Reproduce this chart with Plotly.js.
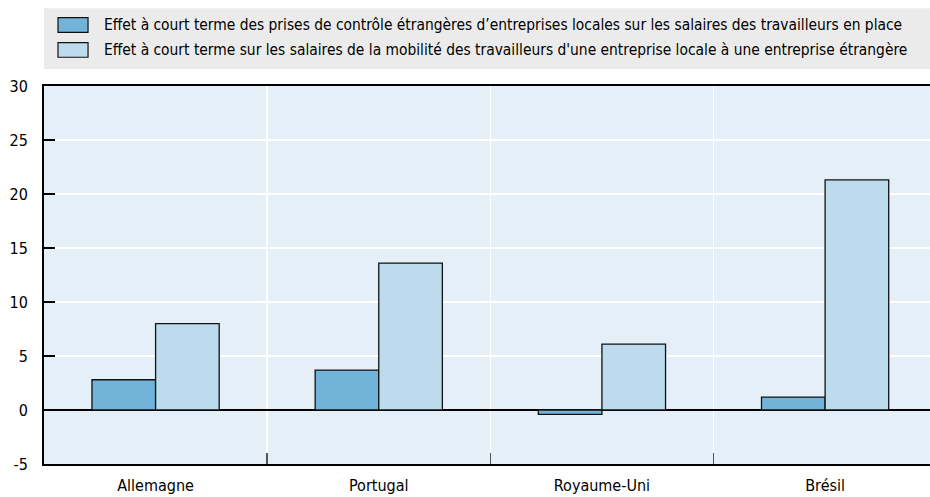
<!DOCTYPE html>
<html>
<head>
<meta charset="utf-8">
<script src="https://cdn.plot.ly/plotly-3.0.1.min.js"></script>
<style>html,body{margin:0;padding:0;background:#fff;}#chart{width:930px;height:497px;}</style>
</head>
<body>
<div id="chart"></div>
<script>
const categories = ["Allemagne", "Portugal", "Royaume-Uni", "Brésil"];
const seriesNames = [
  "Effet à court terme des prises de contrôle étrangères d’entreprises locales sur les salaires des travailleurs en place",
  "Effet à court terme sur les salaires de la mobilité des travailleurs d'une entreprise locale à une entreprise étrangère"
];
const takeoverEffect = [2.8, 3.7, -0.4, 1.2];
const mobilityEffect = [8.0, 13.6, 6.1, 21.3];
const seriesColors = ["#72b3da", "#bcdcee"];
const yTicks = [-5, 0, 5, 10, 15, 20, 25, 30];

const FONT = "'DejaVu Sans Condensed', 'Liberation Sans Narrow', Arial, sans-serif";
const seriesValues = [takeoverEffect, mobilityEffect];

const traces = seriesValues.map((vals, i) => ({
  type: "bar",
  x: categories,
  y: vals,
  name: seriesNames[i],
  marker: { color: seriesColors[i], line: { color: "#111", width: 1.3 } },
  showlegend: false,
  hoverinfo: "x+y"
}));

// custom legend (background box, swatches, labels)
const shapes = [{
  type: "rect", xref: "paper", yref: "paper",
  x0: 0, x1: 1, y0: 1.045, y1: 1.206,
  fillcolor: "#ebebeb", line: { width: 0 }, layer: "below"
}];
const annotations = [];
const rowY = [1.1614, 1.0953];
seriesNames.forEach((n, i) => {
  shapes.push({
    type: "rect", xref: "paper", yref: "paper",
    x0: 0.0158, x1: 0.0497, y0: rowY[i] - 0.0193, y1: rowY[i] + 0.0193,
    fillcolor: seriesColors[i], line: { color: "#111", width: 1.2 }
  });
  annotations.push({
    xref: "paper", yref: "paper", x: 0.0655, y: rowY[i],
    xanchor: "left", yanchor: "middle", showarrow: false,
    text: n, font: { family: FONT, size: 15.4, color: "#000" }
  });
});

const layout = {
  width: 930, height: 497,
  margin: { l: 44, r: 0, t: 86, b: 33, pad: 0 },
  paper_bgcolor: "#fff",
  plot_bgcolor: "#e5eff7",
  barmode: "group",
  bargap: 0.43,
  bargroupgap: 0,
  font: { family: FONT, size: 16, color: "#000" },
  xaxis: {
    type: "category",
    range: [-0.5, 3.47],
    tickson: "boundaries",
    ticks: "inside", ticklen: 11, tickcolor: "#555", tickwidth: 1.5,
    showgrid: true, gridcolor: "#fff", gridwidth: 1.5,
    showline: true, linecolor: "#000", linewidth: 2, mirror: true,
    ticklabelstandoff: 6,
    tickfont: { family: FONT, size: 16, color: "#000" },
    fixedrange: true
  },
  yaxis: {
    range: [-5, 30],
    tickvals: yTicks,
    ticktext: yTicks.map(String),
    ticks: "inside", ticklen: 11, tickcolor: "#000", tickwidth: 1.2,
    showgrid: true, gridcolor: "#fff", gridwidth: 1.5,
    zeroline: true, zerolinecolor: "#000", zerolinewidth: 1.2,
    showline: true, linecolor: "#000", linewidth: 2,
    ticklabelstandoff: 11,
    tickfont: { family: FONT, size: 16, color: "#000" },
    fixedrange: true
  },
  shapes: shapes,
  annotations: annotations
};

Plotly.newPlot("chart", traces, layout, { displayModeBar: false, staticPlot: true });
</script>
</body>
</html>
